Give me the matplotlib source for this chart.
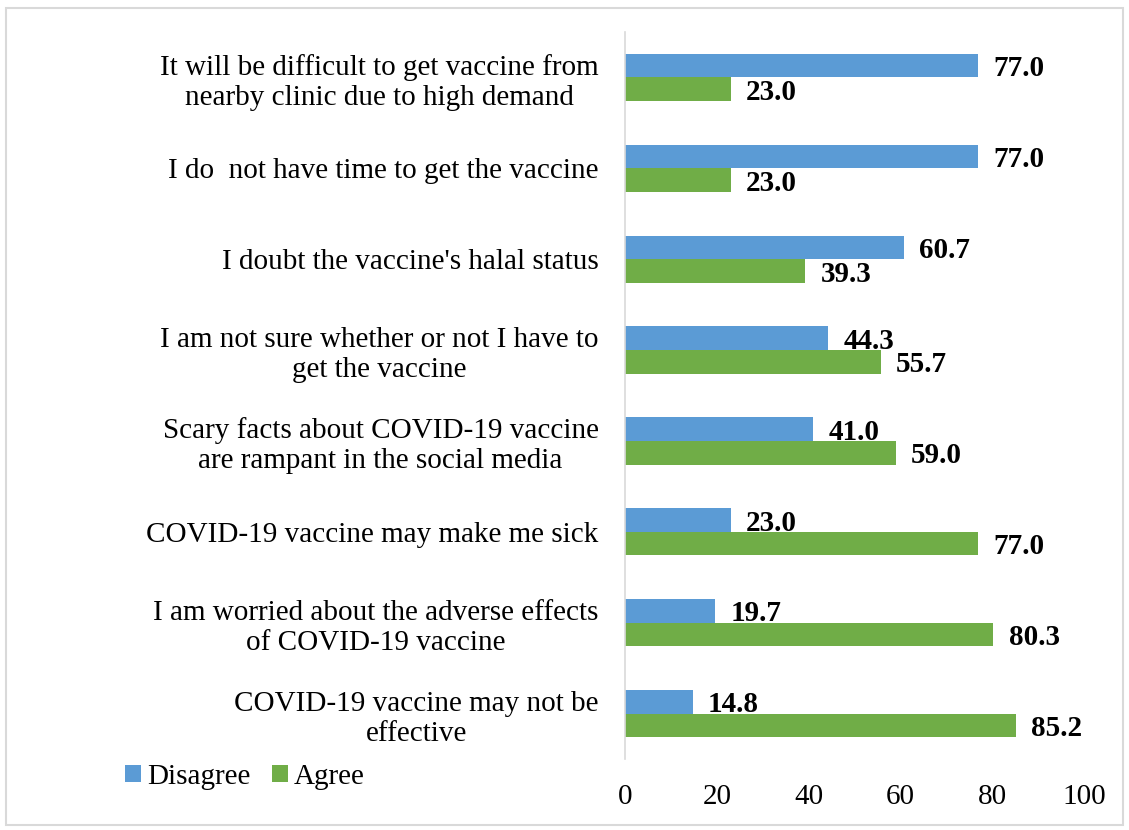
import matplotlib
matplotlib.use("Agg")
import matplotlib.pyplot as plt
import numpy as np
from matplotlib.patches import Rectangle

# statements, top to bottom as in the chart
statements = [
    "It will be difficult to get vaccine from\nnearby clinic due to high demand",
    "I do  not have time to get the vaccine",
    "I doubt the vaccine's halal status",
    "I am not sure whether or not I have to\nget the vaccine",
    "Scary facts about COVID-19 vaccine\nare rampant in the social media",
    "COVID-19 vaccine may make me sick",
    "I am worried about the adverse effects\nof COVID-19 vaccine",
    "COVID-19 vaccine may not be\neffective",
]
disagree = [77.0, 77.0, 60.7, 44.3, 41.0, 23.0, 19.7, 14.8]
agree = [23.0, 23.0, 39.3, 55.7, 59.0, 77.0, 80.3, 85.2]
x_ticks = [0, 20, 40, 60, 80, 100]

plt.rcParams['font.family'] = ['Liberation Serif', 'DejaVu Serif']

fig = plt.figure(figsize=(11.29, 8.30), dpi=100)
ax = fig.add_axes([0.5536, 0.0855, 0.4064, 0.8759])

n = len(statements)
y = np.arange(n)[::-1]  # first statement at top
h = 0.26
blue = '#5B9BD5'
green = '#70AD47'

b1 = ax.barh(y + h / 2, disagree, height=h, color=blue, label='Disagree')
b2 = ax.barh(y - h / 2, agree, height=h, color=green, label='Agree')

for bars, vals in ((b1, disagree), (b2, agree)):
    for bar, v in zip(bars, vals):
        ax.text(bar.get_width() + 3.3, bar.get_y() + bar.get_height() / 2,
                f"{v:.1f}", va='center_baseline', ha='left', fontsize=21, fontweight='bold')

ax.set_ylim(-0.5, n - 0.5)
ax.set_xlim(0, 100)
ax.set_yticks(y)
ax.set_yticklabels(statements, fontsize=21, multialignment='center')
ax.set_xticks(x_ticks)
ax.tick_params(axis='both', length=0)
ax.tick_params(axis='y', pad=19)
ax.tick_params(axis='x', pad=18, labelsize=21)

for s in ('top', 'right', 'bottom'):
    ax.spines[s].set_visible(False)
ax.spines['left'].set_color('#D9D9D9')
ax.spines['left'].set_linewidth(1.2)

fig.legend(handles=[b1, b2], loc='center left', bbox_to_anchor=(0.1107, 0.0639),
           frameon=False, fontsize=21, ncol=2, handlelength=0.55, handleheight=0.55,
           handletextpad=0.2, columnspacing=0.75, borderpad=0, borderaxespad=0)

# light grey frame around the chart
fig.patches.append(Rectangle((0.005, 0.006), 0.99, 0.984, transform=fig.transFigure,
                             fill=False, edgecolor='#D9D9D9', linewidth=1.5))

fig.savefig("out.png", dpi=100)
